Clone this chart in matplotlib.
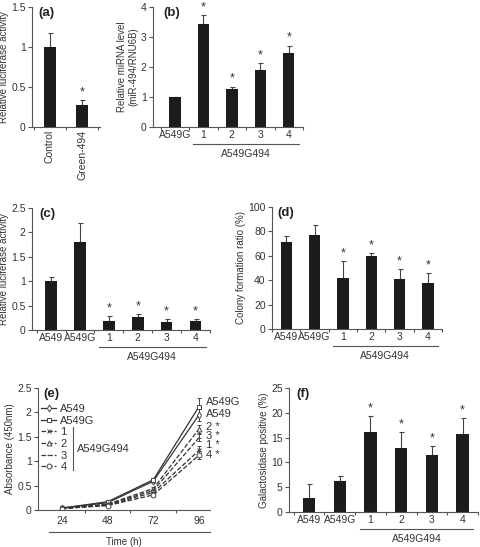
import numpy as np
import matplotlib
matplotlib.use('Agg')
import matplotlib.pyplot as plt
import matplotlib.transforms as mtransforms

plt.rcParams['font.family'] = ['Liberation Sans', 'DejaVu Sans']
plt.rcParams['font.size'] = 7.5
plt.rcParams['axes.labelsize'] = 7
plt.rcParams['text.color'] = '#333333'
plt.rcParams['axes.labelcolor'] = '#333333'
plt.rcParams['xtick.color'] = '#555555'
plt.rcParams['ytick.color'] = '#555555'
plt.rcParams['xtick.labelcolor'] = '#333333'
plt.rcParams['ytick.labelcolor'] = '#333333'

# (a)
a_labels = ['Control', 'Green-494']
a_vals = [1.0, 0.28]
a_errs = [0.18, 0.06]
a_star = [False, True]

# (b)
b_labels = ['A549G', '1', '2', '3', '4']
b_vals = [1.0, 3.45, 1.27, 1.90, 2.46]
b_errs = [0.0, 0.28, 0.08, 0.22, 0.25]
b_star = [False, True, True, True, True]

# (c)
cells = ['A549', 'A549G', '1', '2', '3', '4']
c_vals = [1.0, 1.81, 0.19, 0.26, 0.17, 0.18]
c_errs = [0.08, 0.39, 0.10, 0.07, 0.05, 0.04]
c_star = [False, False, True, True, True, True]

# (d)
d_vals = [71.5, 77.0, 42.0, 59.5, 41.0, 37.5]
d_errs = [4.5, 8.0, 13.5, 2.5, 8.0, 8.5]
d_star = [False, False, True, True, True, True]

# (e)
times = [24, 48, 72, 96]
e_series = ['A549', 'A549G', '1', '2', '3', '4']
e_vals = {
    'A549':  [0.04, 0.15, 0.59, 1.95],
    'A549G': [0.04, 0.17, 0.62, 2.12],
    '1':     [0.03, 0.10, 0.36, 1.22],
    '2':     [0.03, 0.12, 0.44, 1.66],
    '3':     [0.03, 0.11, 0.40, 1.48],
    '4':     [0.03, 0.09, 0.31, 1.12],
}
e_errs = {
    'A549':  [0.01, 0.02, 0.03, 0.12],
    'A549G': [0.01, 0.02, 0.03, 0.18],
    '1':     [0.01, 0.02, 0.03, 0.09],
    '2':     [0.01, 0.02, 0.03, 0.08],
    '3':     [0.01, 0.02, 0.03, 0.07],
    '4':     [0.01, 0.02, 0.03, 0.08],
}
e_markers = ['d', 's', 'x', '^', '_', 'o']
e_styles = ['-', '-', '--', '--', '--', '--']
e_order = ['A549G', 'A549', '2', '3', '1', '4']  # right-hand label order
e_label_y = [2.21, 1.97, 1.70, 1.52, 1.33, 1.13]
e_star = {'A549': False, 'A549G': False, '1': True, '2': True, '3': True, '4': True}

# (f)
f_vals = [2.9, 6.2, 16.2, 13.0, 11.4, 15.7]
f_errs = [2.7, 1.0, 3.1, 3.1, 1.9, 3.2]
f_star = [False, False, True, True, True, True]

W, H = 480, 547
fig = plt.figure(figsize=(W / 100, H / 100), dpi=100)


def add_ax(l, r, t, b):
    return fig.add_axes([l / W, 1 - b / H, (r - l) / W, (b - t) / H])


def style(ax):
    for s in ['top', 'right']:
        ax.spines[s].set_visible(False)
    for s in ['left', 'bottom']:
        ax.spines[s].set_color('#555555')
        ax.spines[s].set_linewidth(0.8)
    ax.tick_params(axis='y', length=3, width=0.8, pad=1.5)


def bar_panel(ax, labels, vals, errs, stars, xlim, ylim, yticks, ytl,
              ylabel, tag, group_from=None, rot=0, tag_x=0.0):
    style(ax)
    x = np.arange(len(vals))
    ax.bar(x, vals, width=0.4, color='#1c1c1c', zorder=2)
    ax.errorbar(x, vals, yerr=[np.zeros(len(errs)), errs], fmt='none',
                ecolor='#444444', elinewidth=0.8, capsize=1.8, capthick=0.8,
                zorder=1)
    span = ylim[1] - ylim[0]
    for xi, v, e, s in zip(x, vals, errs, stars):
        if s:
            ax.text(xi, v + e + span * 0.015, '*', ha='center', va='bottom',
                    fontsize=9)
    ax.set_xlim(*xlim)
    ax.set_ylim(*ylim)
    ax.set_yticks(yticks)
    ax.set_yticklabels(ytl)
    ax.set_xticks(x)
    ax.set_xticklabels(labels, rotation=rot)
    ax.tick_params(axis='x', which='major', length=0, pad=2)
    ax.set_xticks(np.arange(len(vals) + 1) - 0.5, minor=True)
    ax.tick_params(axis='x', which='minor', length=2.5, width=0.8,
                   direction='out')
    ax.set_ylabel(ylabel, labelpad=1.5)
    ax.text(tag_x, 1.0, tag, transform=ax.transAxes,
            fontsize=9.5, fontweight='bold', ha='left', va='top',
            color='#222222')
    if group_from is not None:
        trans = mtransforms.blended_transform_factory(ax.transData, ax.transAxes)
        x0 = group_from - 0.35
        x1 = len(vals) - 1 + 0.35
        ax.plot([x0, x1], [-0.14, -0.14], transform=trans, color='#555555',
                lw=0.8, clip_on=False)
        ax.text((x0 + x1) / 2, -0.18, 'A549G494', transform=trans,
                ha='center', va='top')


ax_a = add_ax(32, 100, 7, 127)
bar_panel(ax_a, a_labels, a_vals, a_errs, a_star, (-0.56, 1.56), (0, 1.5),
          [0, 0.5, 1, 1.5], ['0', '0.5', '1', '1.5'],
          'Relative luciferase activity', '(a)', rot=90, tag_x=0.1)

ax_b = add_ax(153, 303, 7, 127)
bar_panel(ax_b, b_labels, b_vals, b_errs, b_star, (-0.77, 4.49), (0, 4),
          [0, 1, 2, 3, 4], ['0', '1', '2', '3', '4'],
          'Relative miRNA level\n(miR-494/RNU6B)', '(b)', group_from=1,
          tag_x=0.07)

ax_c = add_ax(32, 210, 208, 330)
bar_panel(ax_c, cells, c_vals, c_errs, c_star, (-0.66, 5.48), (0, 2.5),
          [0, 0.5, 1, 1.5, 2, 2.5], ['0', '0.5', '1', '1.5', '2', '2.5'],
          'Relative luciferase activity', '(c)', group_from=2, tag_x=0.04)

ax_d = add_ax(272, 442, 207, 329)
bar_panel(ax_d, cells, d_vals, d_errs, d_star, (-0.42, 5.49), (0, 100),
          [0, 20, 40, 60, 80, 100], ['0', '20', '40', '60', '80', '100'],
          'Colony formation ratio (%)', '(d)', group_from=2, tag_x=0.03)

ax_f = add_ax(289, 478, 388, 512)
bar_panel(ax_f, cells, f_vals, f_errs, f_star, (-0.65, 5.49), (0, 25),
          [0, 5, 10, 15, 20, 25], ['0', '5', '10', '15', '20', '25'],
          'Galactosidase positive (%)', '(f)', group_from=2, tag_x=0.04)

# (e) growth curves
ax_e = add_ax(38, 210, 388, 510)
style(ax_e)
handles = []
for name, mk, ls in zip(e_series, e_markers, e_styles):
    h = ax_e.errorbar(times, e_vals[name], yerr=e_errs[name], color='#333333',
                      lw=0.9, ls=ls, marker=mk, ms=3.5, mfc='white',
                      mec='#444444', mew=0.7, ecolor='#444444',
                      elinewidth=0.7, capsize=1.5, label=name)
    handles.append(h[0])  # line only, no error bars in the legend
ax_e.set_xlim(11.4, 101.8)
ax_e.set_ylim(0, 2.5)
ax_e.set_yticks([0, 0.5, 1, 1.5, 2, 2.5])
ax_e.set_yticklabels(['0', '0.5', '1', '1.5', '2', '2.5'])
ax_e.set_xticks(times)
ax_e.tick_params(axis='x', which='major', length=0, pad=4)
ax_e.set_xticks([36, 60, 84], minor=True)
ax_e.tick_params(axis='x', which='minor', length=2.5, width=0.8)
ax_e.set_ylabel('Absorbance (450nm)', labelpad=1.5)
ax_e.set_xlabel('Time (h)', labelpad=8)
ax_e.text(0.03, 1.0, '(e)', transform=ax_e.transAxes, fontsize=9.5,
          fontweight='bold', ha='left', va='top', color='#222222')
trans_e = mtransforms.blended_transform_factory(ax_e.transData, ax_e.transAxes)
ax_e.plot([17, 102], [-0.18, -0.18], transform=trans_e, color='#555555',
          lw=0.8, clip_on=False)
leg = ax_e.legend(handles=handles, labels=e_series, loc='upper left',
                  bbox_to_anchor=(0.02, 0.87), frameon=False, fontsize=8,
                  handlelength=1.3, handletextpad=0.4, labelspacing=0.15,
                  borderaxespad=0.0, borderpad=0.0)
ax_e.plot([0.205, 0.205], [0.33, 0.68], transform=ax_e.transAxes,
          color='#555555', lw=0.8)
ax_e.text(0.225, 0.50, 'A549G494', transform=ax_e.transAxes, ha='left',
          va='center', fontsize=8)
# labels to the right of the last time point
for name, ly in zip(e_order, e_label_y):
    txt = name + (' *' if e_star[name] else '')
    ax_e.text(times[-1] + 3.5, ly, txt, ha='left', va='center', fontsize=8,
              clip_on=False)

fig.savefig('out.png', dpi=100)
